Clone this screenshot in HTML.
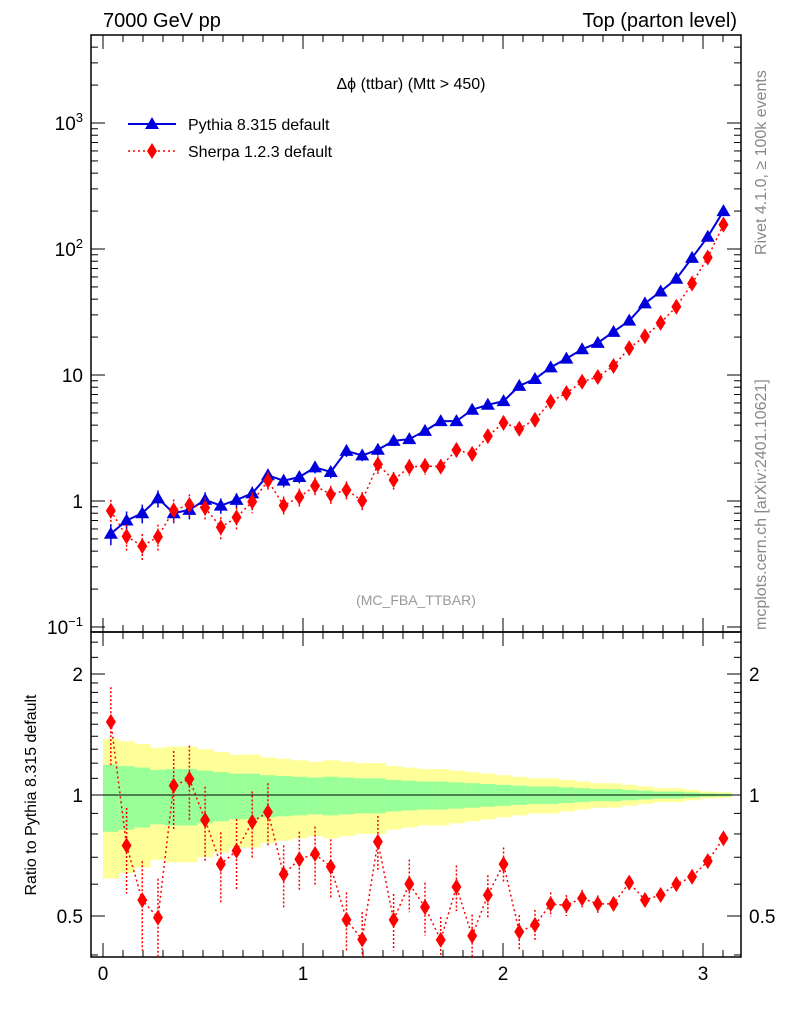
<!DOCTYPE html>
<html><head><meta charset="utf-8"><style>
body{margin:0;background:#fff;}
svg text{font-family:"Liberation Sans",sans-serif;}
</style></head><body>
<svg id="c" width="786" height="1024" xmlns="http://www.w3.org/2000/svg"></svg>
<script>
const nBins = 40;
const pythia = [0.55,0.7,0.8,1.05,0.8,0.85,1.02,0.92,1.02,1.15,1.6,1.45,1.55,1.85,1.7,2.5,2.3,2.55,3.0,3.1,3.6,4.3,4.3,5.3,5.8,6.2,8.2,9.3,11.5,13.5,16,18,22,27,37,46,58,85,125,200];
const sherpa = [0.836,0.524,0.438,0.52,0.844,0.932,0.884,0.619,0.741,0.986,1.45,0.921,1.073,1.319,1.127,1.223,1.005,1.951,1.467,1.863,1.894,1.875,2.541,2.364,3.271,4.173,3.747,4.418,6.153,7.182,8.848,9.648,11.79,16.34,20.28,25.94,34.8,53.2,85.6,156];
const pythiaErr = [0.19,0.18,0.17,0.155,0.16,0.16,0.15,0.14,0.13,0.13,0.12,0.115,0.11,0.105,0.11,0.105,0.1,0.1,0.09,0.085,0.08,0.08,0.075,0.07,0.065,0.06,0.055,0.05,0.05,0.045,0.04,0.035,0.035,0.03,0.025,0.02,0.02,0.015,0.01,0.008];
const sherpaErr = [0.22,0.24,0.25,0.25,0.22,0.21,0.21,0.2,0.2,0.19,0.18,0.18,0.17,0.17,0.17,0.17,0.17,0.16,0.16,0.15,0.15,0.14,0.13,0.13,0.12,0.1,0.1,0.09,0.07,0.06,0.05,0.05,0.04,0.04,0.03,0.03,0.025,0.02,0.015,0.01];
const xTicks = [0,1,2,3];
const yDecades = [-1,0,1,2,3];
const yDecLabels = ["10","1","10","10","10"];
const yDecSup = ["−1","","","2","3"];
const ratioTicks = [0.5,1,2];

const S=document.getElementById('c'),NS='http://www.w3.org/2000/svg';
function el(t,a,p){const e=document.createElementNS(NS,t);for(const k in a)e.setAttribute(k,a[k]);(p||S).appendChild(e);return e;}
const L=91,R=741,T=35,MB=632,RB=957;
const X=v=>103+200*v;
const Y=v=>501-126*Math.log10(v);
const YR=v=>795-121*Math.log2(v);
const w=Math.PI/nBins;
const cx=i=>X((i+0.5)*w);

const clip=el('clipPath',{id:'rc'});el('rect',{x:L,y:MB,width:R-L,height:RB-MB},clip);

// ratio bands
const bands=el('g',{'clip-path':'url(#rc)'});


for(let i=0;i<nBins;i++){
  const e=pythiaErr[i];
  el('rect',{x:X(i*w),width:X((i+1)*w)-X(i*w)+0.5,y:YR(1+2*e),height:YR(Math.max(1-2*e,0.3))-YR(1+2*e),fill:'#ffff99'},bands);
  el('rect',{x:X(i*w),width:X((i+1)*w)-X(i*w)+0.5,y:YR(1+e),height:YR(1-e)-YR(1+e),fill:'#99ff99'},bands);
}
el('line',{x1:L,x2:R,y1:YR(1),y2:YR(1),stroke:'#000','stroke-width':1});

const f1=el('rect',{x:L,y:T,width:R-L,height:MB-T,fill:'none',stroke:'#000','stroke-width':1.5});

const f2=el('rect',{x:L,y:MB,width:R-L,height:RB-MB,fill:'none',stroke:'#000','stroke-width':1.5});


for(let d=-2;d<=3;d++){for(let m=1;m<10;m++){const v=m*Math.pow(10,d);const y=Y(v);if(y<T||y>MB)continue;const len=m==1?14:7;
el('line',{x1:L,x2:L+len,y1:y,y2:y,stroke:'#000'});el('line',{x1:R,x2:R-len,y1:y,y2:y,stroke:'#000'});}}
yDecades.forEach((d,k)=>{const t=el('text',{x:L-8,y:Y(Math.pow(10,d))+7,'text-anchor':'end','font-size':19});

t.textContent=yDecLabels[k];if(yDecSup[k]){const s=el('tspan',{dy:-8,'font-size':13},t);s.textContent=yDecSup[k];}});
[0.4,0.5,0.6,0.7,0.8,0.9,1,1.1,1.2,1.3,1.4,1.5,1.6,1.7,1.8,1.9,2,2.2,2.4].forEach(v=>{const y=YR(v);const len=(v==0.5||v==1||v==2)?14:7;
el('line',{x1:L,x2:L+len,y1:y,y2:y,stroke:'#000'});el('line',{x1:R,x2:R-len,y1:y,y2:y,stroke:'#000'});});
ratioTicks.forEach(v=>{[[L-8,'end'],[R+8,'start']].forEach(([x,a])=>{const t=el('text',{x:x,y:YR(v)+7,'text-anchor':a,'font-size':19});
t.textContent=v;});});
for(let v=0;v<=3.2;v+=0.1){const major=Math.abs(v-Math.round(v))<1e-6;const len=major?14:7;const x=X(v);if(x>R)break;
[[MB,1],[T,1],[RB,-1]].forEach(([y0,s])=>el('line',{x1:x,x2:x,y1:y0,y2:y0+s*len,stroke:'#000'}));
el('line',{x1:x,x2:x,y1:MB,y2:MB-len,stroke:'#000'});}
xTicks.forEach(v=>{const t=el('text',{x:X(v),y:980,'text-anchor':'middle','font-size':19});
t.textContent=v;});

function pts(arr,fy){return arr.map((v,i)=>cx(i)+','+fy(v)).join(' ');}
const pl=el('polyline',{points:pts(pythia,Y),fill:'none',stroke:'#0000dd','stroke-width':2});

const sl=el('polyline',{points:pts(sherpa,Y),fill:'none',stroke:'#ff0000','stroke-width':1.5,'stroke-dasharray':'2,3'});

const ratio=sherpa.map((v,i)=>v/pythia[i]);
const rg=el('g',{'clip-path':'url(#rc)'});
const rl=el('polyline',{points:pts(ratio,YR),fill:'none',stroke:'#ff0000','stroke-width':1.5,'stroke-dasharray':'2,3'},rg);

function tri(x,y,c,p){return el('polygon',{points:`${x-7},${y+5} ${x+7},${y+5} ${x},${y-7}`,fill:c},p);}
function dia(x,y,c,p){return el('polygon',{points:`${x},${y-8} ${x+5},${y} ${x},${y+8} ${x-5},${y}`,fill:c},p);}
for(let i=0;i<nBins;i++){
  const x=cx(i);
  const e=pythiaErr[i];
  el('line',{x1:x,x2:x,y1:Y(pythia[i]*(1+e)),y2:Y(pythia[i]*(1-e)),stroke:'#0000dd','stroke-width':1.5});
  const m=tri(x,Y(pythia[i]),'#0000dd');
  
  const s=sherpaErr[i];
  el('line',{x1:x,x2:x,y1:Y(sherpa[i]*(1+s)),y2:Y(sherpa[i]*(1-s)),stroke:'#ff0000','stroke-width':1.5,'stroke-dasharray':'2,2'});
  const d=dia(x,Y(sherpa[i]),'#ff0000');
  
  const r=ratio[i];
  el('line',{x1:x,x2:x,y1:YR(r*(1+s)),y2:YR(r*(1-s)),stroke:'#ff0000','stroke-width':1.5,'stroke-dasharray':'2,2'},rg);
  const rd=dia(x,YR(r),'#ff0000',rg);
  
}

function txt(x,y,s,a,size,fill,name,rot){const t=el('text',{x:x,y:y,'text-anchor':a,'font-size':size,fill:fill||'#000'});
if(rot)t.setAttribute('transform',`rotate(-90 ${x} ${y})`);t.textContent=s;return t;}
txt(103,27,'7000 GeV pp','start',20,'#000','energy-label');
txt(737,27,'Top (parton level)','end',20,'#000','process-label');
txt(411,89,'Δϕ (ttbar) (Mtt > 450)','middle',16,'#000','plot-title');
txt(416,605,'(MC_FBA_TTBAR)','middle',14,'#999','analysis-label');
txt(766,255,'Rivet 4.1.0, ≥ 100k events','start',16,'#888','rivet-label',true);
txt(766,630,'mcplots.cern.ch [arXiv:2401.10621]','start',16,'#888','mcplots-label',true);
txt(36,795,'Ratio to Pythia 8.315 default','middle',16,'#000','ratio-y-axis-title',true);
const lg=el('g',{});
el('line',{x1:128,x2:176,y1:124,y2:124,stroke:'#0000dd','stroke-width':2},lg);tri(152,124,'#0000dd',lg);
const l1=el('text',{x:188,y:130,'font-size':16},lg);l1.textContent='Pythia 8.315 default';

el('line',{x1:128,x2:176,y1:151,y2:151,stroke:'#ff0000','stroke-width':1.5,'stroke-dasharray':'2,3'},lg);dia(152,151,'#ff0000',lg);
const l2=el('text',{x:188,y:157,'font-size':16},lg);l2.textContent='Sherpa 1.2.3 default';

</script>
</body></html>
